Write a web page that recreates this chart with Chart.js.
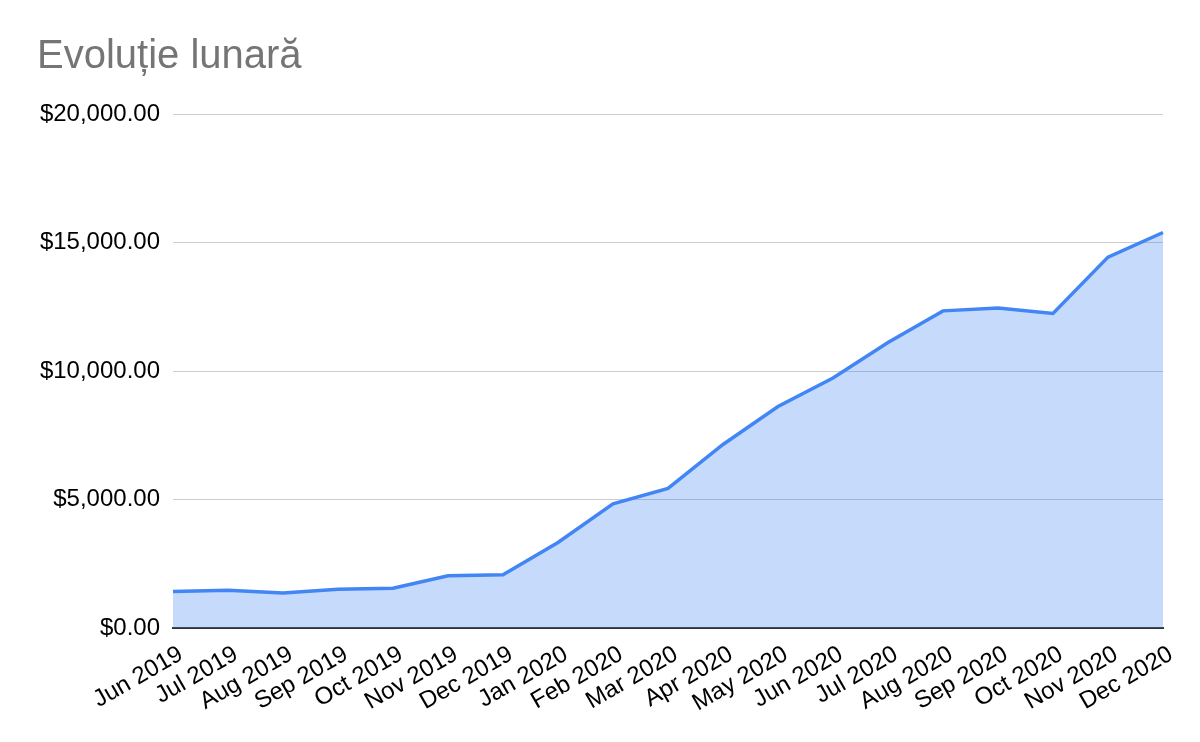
<!DOCTYPE html>
<html>
<head>
<meta charset="utf-8">
<title>Evoluție lunară</title>
<script src="https://cdn.jsdelivr.net/npm/chart.js@4"></script>
<style>
  html, body { margin: 0; padding: 0; background: #fff; }
  #wrap { width: 1200px; height: 742px; }
</style>
</head>
<body>
<div id="wrap"><canvas id="chart" width="1200" height="742"></canvas></div>
<script>
// monthly totals
const months = [
  'Jun 2019', 'Jul 2019', 'Aug 2019', 'Sep 2019', 'Oct 2019', 'Nov 2019', 'Dec 2019',
  'Jan 2020', 'Feb 2020', 'Mar 2020', 'Apr 2020', 'May 2020', 'Jun 2020', 'Jul 2020',
  'Aug 2020', 'Sep 2020', 'Oct 2020', 'Nov 2020', 'Dec 2020'
];
const totals = [
  1420, 1470, 1360, 1510, 1550, 2030, 2070,
  3330, 4830, 5430, 7140, 8620, 9730, 11110,
  12340, 12450, 12240, 14430, 15390
];
const yTicks = [0, 5000, 10000, 15000, 20000];

const FONT = '"Liberation Sans", Arial, sans-serif';

const money = v => '$' + v.toLocaleString('en-US', { minimumFractionDigits: 2, maximumFractionDigits: 2 });

new Chart(document.getElementById('chart'), {
  type: 'line',
  data: {
    labels: months,
    datasets: [{
      data: totals,
      borderColor: '#4285f4',
      backgroundColor: 'rgba(66, 133, 244, 0.3)',
      borderWidth: 3.5,
      fill: 'origin',
      tension: 0,
      pointRadius: 0,
      pointHoverRadius: 0
    }]
  },
  options: {
    responsive: false,
    animation: false,
    layout: { padding: { left: 37, right: 37, top: 0, bottom: 0 } },
    plugins: {
      legend: { display: false },
      tooltip: { enabled: false },
      title: {
        display: true,
        text: 'Evoluție lunară',
        align: 'start',
        color: '#757575',
        font: { family: FONT, size: 40, weight: 'normal' },
        padding: { top: 33, bottom: 33 }
      }
    },
    scales: {
      x: {
        offset: false,
        grid: { display: false, drawTicks: false },
        border: { display: true, color: '#333', width: 2 },
        ticks: {
          color: '#000',
          font: { family: FONT, size: 24 },
          minRotation: 30,
          maxRotation: 30,
          autoSkip: false,
          labelOffset: 8,
          padding: 12
        },
        afterFit: scale => { scale.height = 114; }
      },
      y: {
        min: 0,
        max: 20000,
        afterBuildTicks: scale => { scale.ticks = yTicks.map(v => ({ value: v })); },
        grid: {
          drawTicks: false,
          color: ctx => ctx.tick && ctx.tick.value === 0 ? '#333' : '#cccccc',
          lineWidth: 1
        },
        border: { display: false },
        ticks: {
          color: '#000',
          font: { family: FONT, size: 24 },
          padding: 13,
          callback: v => money(v)
        },
        afterFit: scale => { scale.width = 136; }
      }
    }
  }
});
</script>
</body>
</html>
